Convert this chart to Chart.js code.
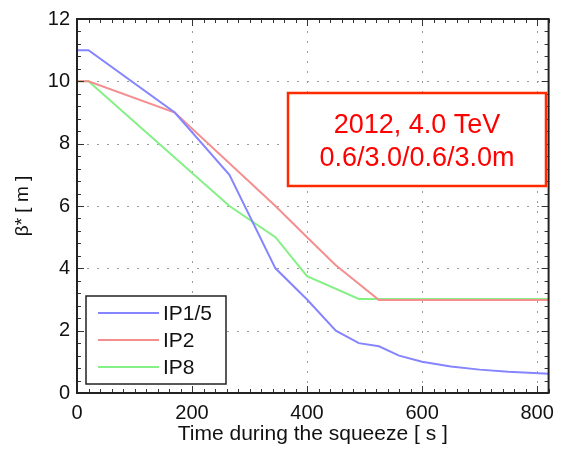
<!DOCTYPE html>
<html>
<head>
<meta charset="utf-8">
<script src="https://cdn.jsdelivr.net/npm/chart.js@4.4.1/dist/chart.umd.min.js"></script>
<style>
  html, body { margin: 0; padding: 0; background: #fff; }
  #wrap { width: 562px; height: 453px; }
</style>
</head>
<body>
<div id="wrap"><canvas id="betaChart" width="562" height="453"></canvas></div>
<script>
// beta* during the 2012 squeeze
const ip15Time = [0, 20, 170, 265, 345, 400, 450, 490, 525, 560, 600, 650, 700, 750, 820];
const ip15Beta = [11, 11, 9, 7, 4, 3, 2, 1.6, 1.5, 1.2, 1.0, 0.85, 0.75, 0.68, 0.62];

const ip2Time = [0, 20, 170, 345, 400, 450, 525, 820];
const ip2Beta = [10, 10, 9, 6, 5, 4.1, 2.98, 2.98];

const ip8Time = [0, 20, 265, 345, 400, 490, 820];
const ip8Beta = [10, 10, 6, 5, 3.75, 3.02, 3.02];

const xTicks = [0, 200, 400, 600, 800];
const yTicks = [0, 2, 4, 6, 8, 10, 12];

const seriesLabels = ['IP1/5', 'IP2', 'IP8'];
const noteLines = ['2012, 4.0 TeV', '0.6/3.0/0.6/3.0m'];

const FONT = "'Liberation Sans', Arial, Helvetica, sans-serif";

function toPoints(xs, ys) {
    return xs.map((x, i) => ({ x: x, y: ys[i] }));
}

// dotted grid, frame, inward tick marks, legend box and the red note
const decorations = {
    id: 'decorations',
    beforeDatasetsDraw(chart) {
        const ctx = chart.ctx;
        const area = chart.chartArea;
        const xs = chart.scales.x;
        const ys = chart.scales.y;
        ctx.save();
        ctx.strokeStyle = '#9a9a9a';
        ctx.lineWidth = 1;
        ctx.setLineDash([2, 8]);
        ctx.beginPath();
        xs.ticks.forEach(t => {
            const px = Math.round(xs.getPixelForValue(t.value)) + 0.5;
            ctx.moveTo(px, area.bottom); ctx.lineTo(px, area.top);
        });
        ys.ticks.forEach(t => {
            const py = Math.round(ys.getPixelForValue(t.value)) + 0.5;
            ctx.moveTo(area.left, py); ctx.lineTo(area.right, py);
        });
        ctx.stroke();
        ctx.restore();
    },
    afterDraw(chart) {
        const ctx = chart.ctx;
        const area = chart.chartArea;
        const xs = chart.scales.x;
        const ys = chart.scales.y;
        ctx.save();

        // minor + major ticks on all four sides
        ctx.strokeStyle = '#333';
        ctx.lineWidth = 1;
        ctx.beginPath();
        for (let v = 0; v <= xs.max + 0.001; v += 20) {
            const px = Math.round(xs.getPixelForValue(v)) + 0.5;
            const len = v % 200 === 0 ? 7 : 4;
            ctx.moveTo(px, area.bottom); ctx.lineTo(px, area.bottom - len);
            ctx.moveTo(px, area.top); ctx.lineTo(px, area.top + len);
        }
        for (let i = 0; i <= 30; i++) {
            const v = i * 0.4;
            const py = Math.round(ys.getPixelForValue(v)) + 0.5;
            const len = i % 5 === 0 ? 7 : 4;
            ctx.moveTo(area.left, py); ctx.lineTo(area.left + len, py);
            ctx.moveTo(area.right, py); ctx.lineTo(area.right - len, py);
        }
        ctx.stroke();

        // plot frame
        ctx.strokeStyle = '#222';
        ctx.lineWidth = 2;
        ctx.strokeRect(area.left, area.top, area.right - area.left, area.bottom - area.top);

        // legend
        ctx.fillStyle = '#fff';
        ctx.fillRect(86, 296, 140, 88);
        ctx.strokeStyle = '#222';
        ctx.lineWidth = 1.5;
        ctx.strokeRect(86, 296, 140, 88);
        ctx.font = '21px ' + FONT;
        ctx.textBaseline = 'middle';
        ctx.textAlign = 'left';
        chart.data.datasets.forEach((ds, i) => {
            const y = 313 + i * 27;
            ctx.strokeStyle = ds.borderColor;
            ctx.lineWidth = 2;
            ctx.beginPath();
            ctx.moveTo(98, y); ctx.lineTo(159, y);
            ctx.stroke();
            ctx.fillStyle = '#111';
            ctx.fillText(ds.label, 163, y + 1);
        });

        // note box
        ctx.fillStyle = '#fff';
        ctx.fillRect(288, 93, 258, 93);
        ctx.strokeStyle = '#ff2a00';
        ctx.lineWidth = 2.5;
        ctx.strokeRect(288, 93, 258, 93);
        ctx.fillStyle = '#ff0000';
        ctx.font = '27px ' + FONT;
        ctx.textAlign = 'center';
        ctx.fillText(noteLines[0], 417, 126);
        ctx.fillText(noteLines[1], 417, 159);

        ctx.restore();
    }
};

const ctx = document.getElementById('betaChart').getContext('2d');

new Chart(ctx, {
    type: 'line',
    data: {
        datasets: [{
            label: seriesLabels[0],
            data: toPoints(ip15Time, ip15Beta),
            borderColor: '#8585ff',
            borderWidth: 2,
            pointRadius: 0,
            fill: false,
        }, {
            label: seriesLabels[1],
            data: toPoints(ip2Time, ip2Beta),
            borderColor: '#f58e8e',
            borderWidth: 2,
            pointRadius: 0,
            fill: false,
        }, {
            label: seriesLabels[2],
            data: toPoints(ip8Time, ip8Beta),
            borderColor: '#85f085',
            borderWidth: 2,
            pointRadius: 0,
            fill: false,
        }]
    },
    options: {
        responsive: false,
        animation: false,
        layout: { padding: { top: 16, right: 9, left: 0, bottom: 0 } },
        plugins: {
            legend: { display: false },
            tooltip: { enabled: false }
        },
        scales: {
            x: {
                type: 'linear',
                min: 0,
                max: 820,
                afterBuildTicks: scale => { scale.ticks = xTicks.map(v => ({ value: v })); },
                afterFit: scale => { scale.height = 60; },
                ticks: {
                    color: '#111',
                    font: { family: FONT, size: 20 },
                    padding: 8,
                    maxRotation: 0
                },
                grid: { display: false, drawTicks: false },
                border: { display: false },
                title: {
                    display: true,
                    text: 'Time during the squeeze [ s ]',
                    color: '#111',
                    font: { family: FONT, size: 21 },
                    padding: { top: 0, bottom: 6 }
                }
            },
            y: {
                type: 'linear',
                min: 0,
                max: 12,
                afterBuildTicks: scale => { scale.ticks = yTicks.map(v => ({ value: v })); },
                afterFit: scale => { scale.width = 77; },
                ticks: {
                    color: '#111',
                    font: { family: FONT, size: 20 },
                    padding: 7
                },
                grid: { display: false, drawTicks: false },
                border: { display: false },
                title: {
                    display: true,
                    text: 'β* [ m ]',
                    color: '#111',
                    font: { family: FONT, size: 19 },
                    padding: { top: 11, bottom: 0 }
                }
            }
        }
    },
    plugins: [decorations]
});
</script>
</body>
</html>
